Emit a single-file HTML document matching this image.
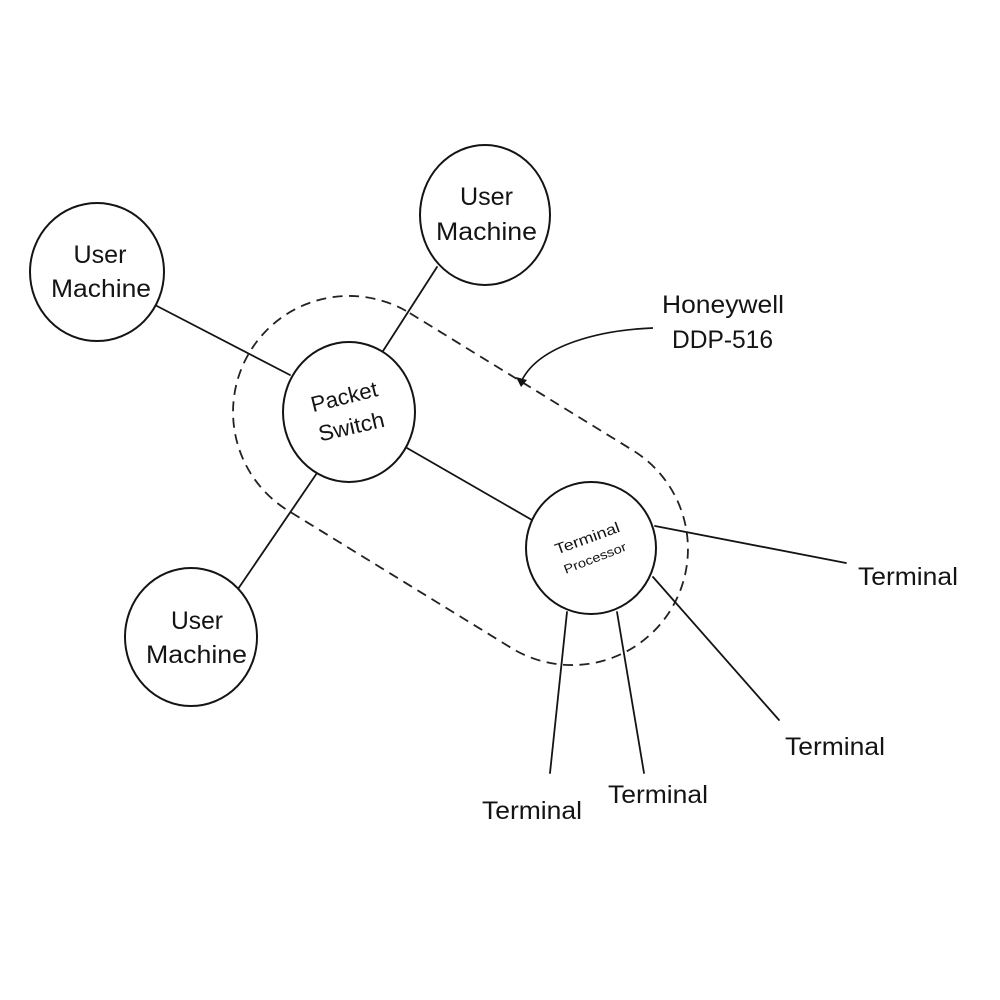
<!DOCTYPE html>
<html>
<head>
<meta charset="utf-8">
<style>
  html, body { margin: 0; padding: 0; background: #ffffff; }
  body { width: 1000px; height: 1000px; overflow: hidden; }
  svg { display: block; }
  text { font-family: "Liberation Sans", "DejaVu Sans", sans-serif; fill: #141414; }
</style>
</head>
<body>
<svg width="1000" height="1000" viewBox="0 0 1000 1000" xmlns="http://www.w3.org/2000/svg">
  <rect x="0" y="0" width="1000" height="1000" fill="#ffffff"/>

  <!-- dashed stadium (Honeywell DDP-516 boundary) -->
  <g transform="translate(460.5,480.5) rotate(31.6)">
    <rect x="-246.85" y="-116" width="493.7" height="232" rx="116" ry="116"
          fill="none" stroke="#222" stroke-width="1.8" stroke-dasharray="10,6.5"/>
  </g>

  <!-- connectors -->
  <g stroke="#141414" stroke-width="1.8" fill="none" stroke-linecap="round">
    <line x1="155" y1="305" x2="290" y2="375"/>
    <line x1="437" y1="267" x2="383" y2="351"/>
    <line x1="238" y1="589" x2="317" y2="473"/>
    <line x1="407" y1="448" x2="532" y2="520"/>
    <line x1="655" y1="526" x2="846" y2="563"/>
    <line x1="653" y1="577" x2="779" y2="720"/>
    <line x1="567" y1="612" x2="550" y2="773"/>
    <line x1="617" y1="612" x2="644" y2="773"/>
  </g>

  <!-- nodes -->
  <g stroke="#141414" stroke-width="2" fill="#ffffff">
    <ellipse cx="97" cy="272" rx="67" ry="69"/>
    <ellipse cx="485" cy="215" rx="65" ry="70"/>
    <ellipse cx="191" cy="637" rx="66" ry="69"/>
    <ellipse cx="349" cy="412" rx="66" ry="70"/>
    <ellipse cx="591" cy="548" rx="65" ry="66"/>
  </g>

  <!-- Honeywell pointer arrow -->
  <path d="M653,328 C600,330 540,345 522,380" fill="none" stroke="#141414" stroke-width="1.7"/>
  <polygon points="516,377 527,380 521,387" fill="#141414"/>

  <!-- User Machine labels -->
  <text x="100" y="263" font-size="25" text-anchor="middle" textLength="53" lengthAdjust="spacingAndGlyphs">User</text>
  <text x="101" y="297" font-size="25" text-anchor="middle" textLength="100" lengthAdjust="spacingAndGlyphs">Machine</text>

  <text x="486.5" y="205" font-size="25" text-anchor="middle" textLength="53" lengthAdjust="spacingAndGlyphs">User</text>
  <text x="486.5" y="240" font-size="25" text-anchor="middle" textLength="101" lengthAdjust="spacingAndGlyphs">Machine</text>

  <text x="197" y="629" font-size="25" text-anchor="middle" textLength="52" lengthAdjust="spacingAndGlyphs">User</text>
  <text x="196.5" y="663" font-size="25" text-anchor="middle" textLength="101" lengthAdjust="spacingAndGlyphs">Machine</text>

  <!-- Packet Switch (rotated) -->
  <text transform="translate(346,404) rotate(-14)" font-size="22" text-anchor="middle" textLength="68" lengthAdjust="spacingAndGlyphs">Packet</text>
  <text transform="translate(353,434) rotate(-13)" font-size="22" text-anchor="middle" textLength="67" lengthAdjust="spacingAndGlyphs">Switch</text>

  <!-- Terminal Processor (rotated) -->
  <text transform="translate(589,543) rotate(-20)" font-size="15" text-anchor="middle" textLength="68" lengthAdjust="spacingAndGlyphs">Terminal</text>
  <text transform="translate(596.5,562) rotate(-21)" font-size="12.5" text-anchor="middle" textLength="66" lengthAdjust="spacingAndGlyphs">Processor</text>

  <!-- Honeywell label -->
  <text x="723" y="313" font-size="25" text-anchor="middle" textLength="122" lengthAdjust="spacingAndGlyphs">Honeywell</text>
  <text x="722.5" y="348" font-size="25" text-anchor="middle" textLength="101" lengthAdjust="spacingAndGlyphs">DDP-516</text>

  <!-- Terminals -->
  <text x="858" y="585" font-size="25" textLength="100" lengthAdjust="spacingAndGlyphs">Terminal</text>
  <text x="785" y="755" font-size="25" textLength="100" lengthAdjust="spacingAndGlyphs">Terminal</text>
  <text x="608" y="803" font-size="25" textLength="100" lengthAdjust="spacingAndGlyphs">Terminal</text>
  <text x="482" y="819" font-size="25" textLength="100" lengthAdjust="spacingAndGlyphs">Terminal</text>
</svg>
</body>
</html>
